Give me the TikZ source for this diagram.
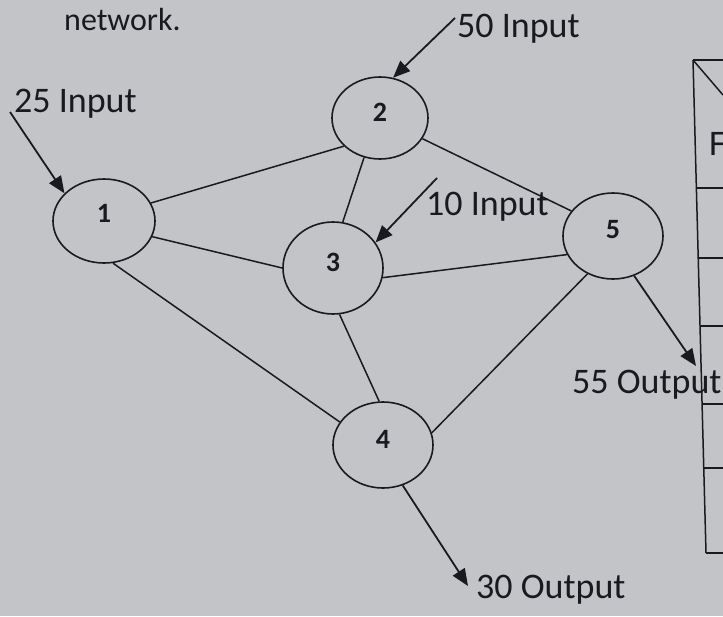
\documentclass[tikz,border=0pt]{standalone}
\usepackage{fontspec}
\setmainfont{Carlito}
\usetikzlibrary{shapes.geometric,arrows.meta}
\definecolor{paper}{RGB}{194,196,199}
\definecolor{ink}{RGB}{24,26,32}
\tikzset{
  netnode/.style={ellipse,draw=ink,line width=1.6pt,inner sep=0pt},
  link/.style={draw=ink,line width=1.5pt},
  flow/.style={draw=ink,line width=1.8pt,-{Triangle[length=17pt,width=14pt]}},
  caption/.style={text=ink,inner sep=0pt,anchor=base west,font=\fontsize{36}{42}\selectfont},
  tableline/.style={draw=ink,line width=1.5pt}
}
\newcommand{\nodenum}[1]{\fontsize{28}{32}\selectfont\bfseries #1}
\begin{document}
\begin{tikzpicture}[x=1pt,y=-1pt]
  \fill[paper] (0,0) rectangle (723,616);
  \useasboundingbox (0,0) rectangle (723,616);
  \clip (0,0) rectangle (723,616);

  % network nodes
  \node[netnode,minimum width=102pt,minimum height=84pt,label={[text=ink,yshift=8pt]center:\nodenum{1}}] (n1) at (104,221) {};
  \node[netnode,minimum width=96pt,minimum height=82pt,label={[text=ink,yshift=6pt]center:\nodenum{2}}] (n2) at (380,118) {};
  \node[netnode,minimum width=100pt,minimum height=92pt,label={[text=ink,yshift=6pt]center:\nodenum{3}}] (n3) at (333,268) {};
  \node[netnode,minimum width=100pt,minimum height=86pt,label={[text=ink,yshift=6pt]center:\nodenum{4}}] (n4) at (383,445) {};
  \node[netnode,minimum width=100pt,minimum height=86pt,label={[text=ink,yshift=6pt]center:\nodenum{5}}] (n5) at (613,236) {};

  % links between nodes
  \draw[link] (n1.21) -- (n2.218);
  \draw[link] (n1.342) -- (n3.180);
  \draw[link] (n1.282) -- (n4.152);
  \draw[link] (n2.248) -- (n3.78);
  \draw[link] (n2.334) -- (n5.149);
  \draw[link] (n3.349) -- (n5.202);
  \draw[link] (n3.278) -- (n4.95);
  \draw[link] (n4.14) -- (n5.236);

  % external flows
  \coordinate (in1) at (10,112);
  \coordinate (in2) at (455,18);
  \coordinate (in3) at (437,178);
  \coordinate (out5) at (696,366);
  \coordinate (out4) at (468,586);
  \draw[flow] (in1) -- (n1.145);
  \draw[flow] (in2) -- (n2.72);
  \draw[flow] (in3) -- (n3.31);
  \draw[flow] (n5.298) -- (out5);
  \draw[flow] (n4.296) -- (out4);

  % texts
  \node[caption,font=\fontsize{32}{38}\selectfont] (tnet) at (64,30) {network.};
  \node[caption] (t25) at (14,112) {25 Input};
  \node[caption] (t50) at (457,37) {50 Input};
  \node[caption] (t10) at (426,215) {10 Input};
  \node[caption] (t55) at (572,393) {55 Output};
  \node[caption] (t30) at (476,598) {30 Output};

  % table at the right edge
  \coordinate (ttop) at (693,60);
  \coordinate (tbot) at (706,553);
  \draw[tableline] (ttop) -- (tbot);
  \draw[tableline] (ttop) -- (723,60);
  \draw[tableline] (ttop) -- (723,95);
  \foreach \yy in {188,258,326,404,468,553}{
    \draw[tableline] ({693+13*(\yy-60)/493},\yy) -- (723,\yy);
  }
  \node[caption] (tF) at (709,155) {F};
\end{tikzpicture}
\end{document}
